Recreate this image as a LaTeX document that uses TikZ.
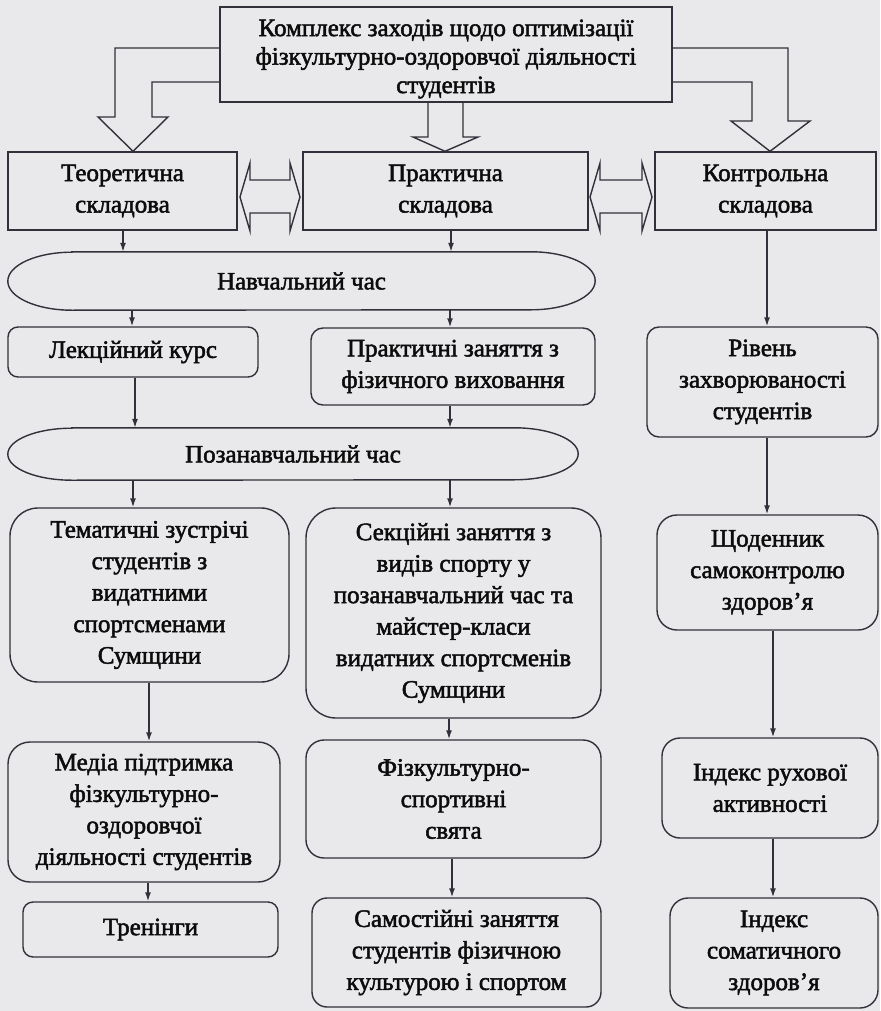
\documentclass[tikz,border=0pt]{standalone}
\usepackage{fontspec}
\setmainfont[FakeBold=2]{Liberation Serif}
\usetikzlibrary{arrows.meta,calc}
\definecolor{bgc}{RGB}{233,233,235}
\definecolor{ln}{RGB}{50,48,58}
\definecolor{tx}{RGB}{12,12,12}
\begin{document}
\begin{tikzpicture}[x=1pt,y=-1pt,
  box/.style={draw=ln, line width=1.4pt, text=tx, align=center, inner sep=0pt,
    font=\fontsize{25}{31.5}\selectfont},
  rbox/.style={box, rounded corners=#1},
  capsule/.style={inner sep=0pt, text=tx, align=center, font=\fontsize{25}{31.5}\selectfont},
  arr/.style={draw=ln, line width=1.4pt, -{Latex[length=9pt,width=6pt]}},
  hollow/.style={draw=ln, line width=1.4pt, line join=miter}]
\fill[bgc] (0,0) rectangle (880,1011);
\useasboundingbox (0,0) rectangle (880,1011);

% top box
\node[box, minimum width=452pt, minimum height=95pt] (top) at (446,54.5) {};
\node[text=tx, align=center, inner sep=0pt, font=\fontsize{25}{28.5}\selectfont] (toptext) at (446,59)
  {Комплекс заходів щодо оптимізації\\фізкультурно-оздоровчої діяльності\\студентів};

% row 1
\node[box, minimum width=229pt, minimum height=78pt] (teor) at (122.5,191) {Теоретична\\складова};
\node[box, minimum width=285pt, minimum height=78pt] (prakt) at (445.5,191) {Практична\\складова};
\node[box, minimum width=221pt, minimum height=78pt] (kontr) at (765.5,191) {Контрольна\\складова};

% capsules
\node[capsule, minimum width=587pt, minimum height=58pt] (ell1) at (301.5,281) {Навчальний час};
\node[capsule, minimum width=570pt, minimum height=52pt] (ell2) at (293,454) {Позанавчальний час};
\foreach \e/\ry in {ell1/29pt, ell2/26pt}{
  \draw[draw=ln, line width=1.4pt]
    ([xshift=64pt]\e.north west) -- ([xshift=-64pt]\e.north east)
    arc[start angle=90, end angle=-90, x radius=64pt, y radius=\ry]
    -- ([xshift=64pt]\e.south west)
    arc[start angle=270, end angle=90, x radius=64pt, y radius=\ry] -- cycle;
}

% row 2
\node[rbox=10pt, minimum width=250pt, minimum height=50pt] (lek) at (133,352) {Лекційний курс};
\node[rbox=12pt, minimum width=284pt, minimum height=77pt] (prz) at (453,366.5) {Практичні заняття з\\фізичного виховання};
\node[rbox=12pt, minimum width=231pt, minimum height=110pt] (riv) at (762.5,382) {Рівень\\захворюваності\\студентів};

% row 3
\node[rbox=28pt, minimum width=279pt, minimum height=174pt] (tem) at (149.5,595)
  {Тематичні зустрічі\\студентів з\\видатними\\спортсменами\\Сумщини};
\node[rbox=30pt, minimum width=295pt, minimum height=210pt] (sek) at (453.5,613)
  {Секційні заняття з\\видів спорту у\\позанавчальний час та\\майстер-класи\\видатних спортсменів\\Сумщини};
\node[rbox=20pt, minimum width=221pt, minimum height=115pt] (shch) at (767.5,572.5)
  {Щоденник\\самоконтролю\\здоров’я};

% row 4
\node[rbox=22pt, minimum width=272pt, minimum height=140pt] (media) at (144,812)
  {Медіа підтримка\\фізкультурно-\\оздоровчої\\діяльності студентів};
\node[rbox=18pt, minimum width=295pt, minimum height=118pt] (fizk) at (453.5,799)
  {Фізкультурно-\\спортивні\\свята};
\node[rbox=18pt, minimum width=216pt, minimum height=100pt] (ind1) at (770,788)
  {Індекс рухової\\активності};

% row 5
\node[rbox=10pt, minimum width=255pt, minimum height=55pt] (tren) at (150.5,929.5) {Тренінги};
\node[rbox=15pt, minimum width=289pt, minimum height=109pt] (sam) at (456.5,952.5)
  {Самостійні заняття\\студентів фізичною\\культурою і спортом};
\node[rbox=18pt, minimum width=208pt, minimum height=110pt] (ind2) at (774,953)
  {Індекс\\соматичного\\здоров’я};

% hollow arrows from the top box
\draw[hollow] (top.west |- 0,48) -- (115,48) -- (115,117) -- (98,117)
  -- (teor.north -| 133,0) -- (168,117) -- (152,117) -- (152,82) -- (top.west |- 0,82);
\draw[hollow] (top.south -| 428,0) -- (428,137) -- (413,137)
  -- (prakt.north -| 445,0) -- (478,137) -- (463,137) -- (top.south -| 463,0);
\draw[hollow] (top.east |- 0,48) -- (788,48) -- (788,121) -- (810,121)
  -- (kontr.north -| 770,0) -- (731,121) -- (752,121) -- (752,82) -- (top.east |- 0,82);

% double hollow arrows between the components
\draw[hollow] (250,180) -- (250,163) -- (240,197) -- (250,231) -- (250,213)
  -- (290,213) -- (290,231) -- (300,197) -- (290,163) -- (290,180) -- cycle;
\draw[hollow] (600,180) -- (600,163) -- (590,197) -- (600,231) -- (600,213)
  -- (642,213) -- (642,231) -- (652,197) -- (642,163) -- (642,180) -- cycle;

% connectors
\draw[arr] (teor.south -| 123,0) -- (ell1.north -| 123,0);
\draw[arr] (prakt.south -| 451,0) -- (ell1.north -| 451,0);
\draw[arr] (kontr.south -| 767,0) -- (riv.north -| 767,0);
\draw[arr] (ell1.south -| 132,0) -- (lek.north -| 132,0);
\draw[arr] (ell1.south -| 450,0) -- (prz.north -| 450,0);
\draw[arr] (lek.south -| 135,0) -- (ell2.north -| 135,0);
\draw[arr] (prz.south -| 450,0) -- (ell2.north -| 450,0);
\draw[arr] (riv.south -| 767,0) -- (shch.north -| 767,0);
\draw[arr] (ell2.south -| 133,0) -- (tem.north -| 133,0);
\draw[arr] (ell2.south -| 450,0) -- (sek.north -| 450,0);
\draw[arr] (tem.south -| 149,0) -- (media.north -| 149,0);
\draw[arr] (sek.south -| 449,0) -- (fizk.north -| 449,0);
\draw[arr] (shch.south -| 773,0) -- (ind1.north -| 773,0);
\draw[arr] (media.south -| 148,0) -- (tren.north -| 148,0);
\draw[arr] (fizk.south -| 452,0) -- (sam.north -| 452,0);
\draw[arr] (ind1.south -| 773,0) -- (ind2.north -| 773,0);
\end{tikzpicture}
\end{document}
